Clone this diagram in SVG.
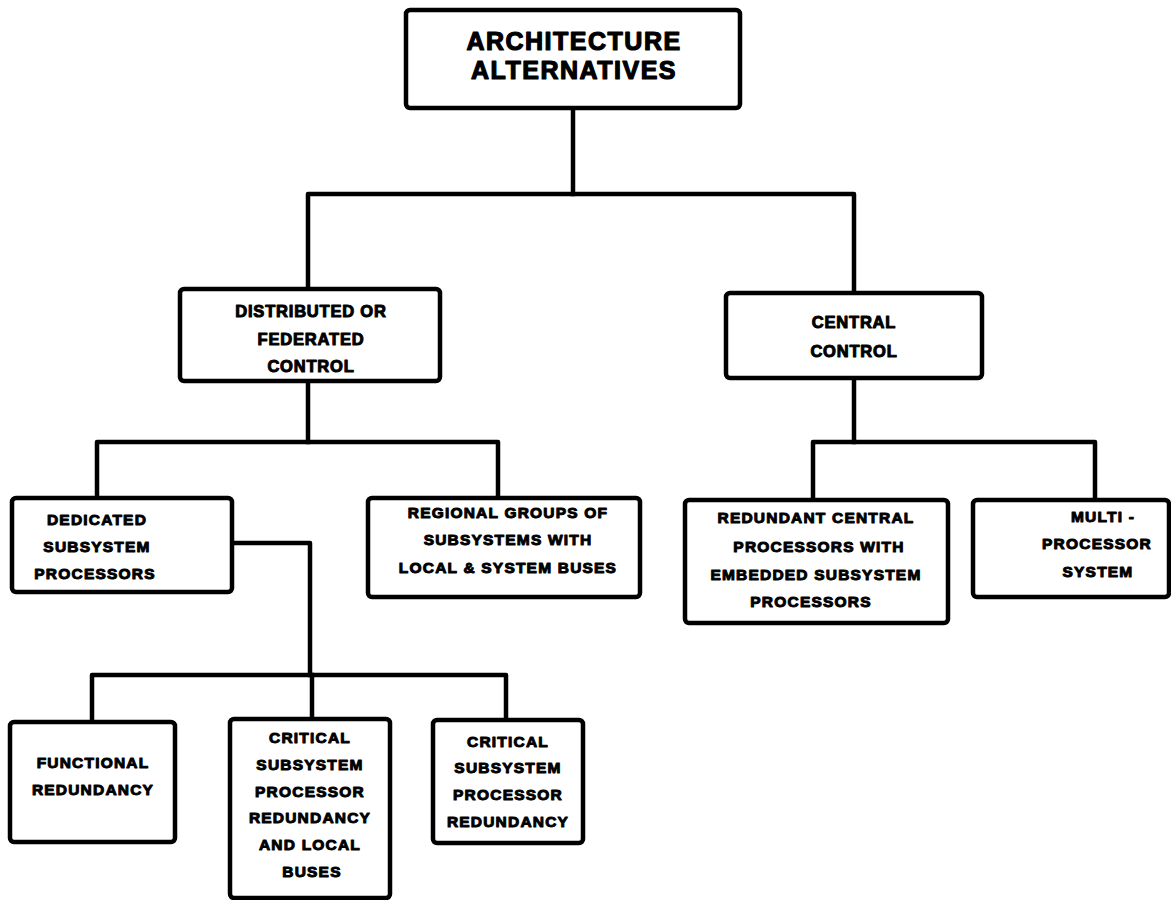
<svg xmlns="http://www.w3.org/2000/svg" width="1171" height="900" viewBox="0 0 1171 900">
  <style>
    .box { fill: #ffffff; stroke: #000000; stroke-width: 4.5; stroke-linejoin: round; }
    .wire { fill: none; stroke: #000000; stroke-width: 4.5; stroke-linejoin: round; stroke-linecap: square; }
    text { font-family: "Liberation Sans", Arial, sans-serif; font-weight: bold; fill: #000000; stroke: #000000; stroke-width: 1; stroke-linejoin: round; text-anchor: middle; }
    .title { font-size: 25px; letter-spacing: 1.5px; stroke-width: 1.2; }
    .mid { font-size: 16.5px; letter-spacing: 0.8px; }
    .sm { font-size: 15.5px; letter-spacing: 1.2px; }
  </style>
  <rect width="1171" height="900" fill="#ffffff"/>

  <!-- connectors -->
  <g id="connectors">
    <path class="wire" d="M573 108 V194"/>
    <path class="wire" d="M308 289 V194 H854 V293"/>
    <path class="wire" d="M308 381 V442"/>
    <path class="wire" d="M97 498 V442 H498 V498"/>
    <path class="wire" d="M854 378 V442"/>
    <path class="wire" d="M813 500 V442 H1095 V500"/>
    <path class="wire" d="M232 543 H310 V675"/>
    <path class="wire" d="M92 722 V675 H506 V720"/>
    <path class="wire" d="M312 675 V719"/>
  </g>

  <!-- root -->
  <g id="architecture-alternatives">
    <rect class="box" x="406" y="10" width="334" height="98" rx="4"/>
    <text class="title" x="574" y="50">ARCHITECTURE</text>
    <text class="title" x="574" y="79">ALTERNATIVES</text>
  </g>

  <g id="distributed-control">
    <rect class="box" x="180" y="289" width="260" height="92" rx="4"/>
    <text class="mid" x="311" y="317">DISTRIBUTED OR</text>
    <text class="mid" x="311" y="345">FEDERATED</text>
    <text class="mid" x="311" y="372">CONTROL</text>
  </g>

  <g id="central-control">
    <rect class="box" x="726" y="293" width="256" height="85" rx="4"/>
    <text class="mid" x="854" y="328">CENTRAL</text>
    <text class="mid" x="854" y="357">CONTROL</text>
  </g>

  <g id="dedicated-subsystem-processors">
    <rect class="box" x="12" y="498" width="220" height="94" rx="4"/>
    <text class="sm" x="97" y="525">DEDICATED</text>
    <text class="sm" x="97" y="552">SUBSYSTEM</text>
    <text class="sm" x="95" y="579">PROCESSORS</text>
  </g>

  <g id="regional-groups">
    <rect class="box" x="368" y="498" width="272" height="99" rx="4"/>
    <text class="sm" x="508" y="518">REGIONAL GROUPS OF</text>
    <text class="sm" x="508" y="545">SUBSYSTEMS WITH</text>
    <text class="sm" x="508" y="573">LOCAL &amp; SYSTEM BUSES</text>
  </g>

  <g id="redundant-central-processors">
    <rect class="box" x="685" y="500" width="263" height="123" rx="4"/>
    <text class="sm" x="816" y="523">REDUNDANT CENTRAL</text>
    <text class="sm" x="819" y="552">PROCESSORS WITH</text>
    <text class="sm" x="816" y="580">EMBEDDED SUBSYSTEM</text>
    <text class="sm" x="811" y="607">PROCESSORS</text>
  </g>

  <g id="multiprocessor-system">
    <rect class="box" x="973" y="500" width="196" height="97" rx="4"/>
    <text class="sm" x="1103" y="522">MULTI -</text>
    <text class="sm" x="1097" y="549">PROCESSOR</text>
    <text class="sm" x="1098" y="577">SYSTEM</text>
  </g>

  <g id="functional-redundancy">
    <rect class="box" x="10" y="722" width="165" height="120" rx="4"/>
    <text class="sm" x="93" y="768">FUNCTIONAL</text>
    <text class="sm" x="93" y="795">REDUNDANCY</text>
  </g>

  <g id="critical-redundancy-local-buses">
    <rect class="box" x="230" y="719" width="160" height="179" rx="4"/>
    <text class="sm" x="310" y="743">CRITICAL</text>
    <text class="sm" x="310" y="770">SUBSYSTEM</text>
    <text class="sm" x="310" y="797">PROCESSOR</text>
    <text class="sm" x="310" y="823">REDUNDANCY</text>
    <text class="sm" x="310" y="850">AND LOCAL</text>
    <text class="sm" x="312" y="877">BUSES</text>
  </g>

  <g id="critical-redundancy">
    <rect class="box" x="433" y="720" width="150" height="123" rx="4"/>
    <text class="sm" x="508" y="747">CRITICAL</text>
    <text class="sm" x="508" y="773">SUBSYSTEM</text>
    <text class="sm" x="508" y="800">PROCESSOR</text>
    <text class="sm" x="508" y="827">REDUNDANCY</text>
  </g>
</svg>
